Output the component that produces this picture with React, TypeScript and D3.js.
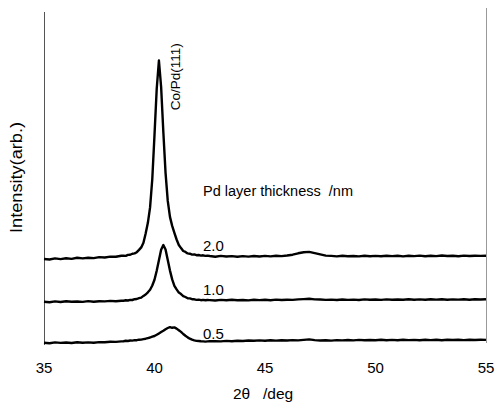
import React from "react";
import * as d3 from "d3";

// Diffraction angle grid (deg), finer across the (111) peak region
const theta = [
  35, 35.25, 35.5, 35.75, 36, 36.25, 36.5, 36.75, 37, 37.25, 37.5, 37.75, 38, 38.25, 38.5,
  38.6, 38.7, 38.8, 38.9, 39.0, 39.1, 39.2, 39.3, 39.4, 39.5, 39.6, 39.7, 39.8, 39.9,
  40.0, 40.1, 40.2, 40.3, 40.4, 40.5, 40.6, 40.7, 40.8, 40.9,
  41.0, 41.1, 41.2, 41.3, 41.4, 41.5, 41.6, 41.7, 41.8, 41.9,
  42.0, 42.1, 42.2, 42.3, 42.4,
  42.5, 42.75, 43, 43.25, 43.5, 43.75, 44, 44.25, 44.5, 44.75, 45,
  45.25, 45.5, 45.75, 46, 46.25, 46.5, 46.75, 47, 47.25, 47.5, 47.75,
  48, 48.25, 48.5, 48.75, 49, 49.25, 49.5, 49.75, 50, 50.25, 50.5,
  50.75, 51, 51.25, 51.5, 51.75, 52, 52.25, 52.5, 52.75, 53, 53.25,
  53.5, 53.75, 54, 54.25, 54.5, 54.75, 55,
];

// Offset intensities (arb.) for each Pd layer thickness
const intensity20 = [
  85.0, 84.5, 85.6, 84.9, 85.7, 85.1, 86.2, 85.6, 86.3, 85.9, 86.9, 86.5, 87.4, 87.2, 88.3,
  88.3, 88.1, 89.1, 89.2, 90.3, 90.6, 91.8, 94.1, 96.6, 101.2, 110.6, 121.2, 136.6, 165.0,
  209.0, 255.0, 283.5, 257.0, 212.0, 171.1, 143.1, 127.1, 118.1, 111.2,
  104.5, 99.0, 95.9, 93.0, 92.1, 90.6, 90.3, 89.4, 89.6, 88.8,
  89.0, 88.4, 88.7, 88.1, 88.4,
  88.0, 87.3, 88.1, 87.5, 87.9, 87.2, 87.9, 87.4, 88.0, 87.5, 88.1,
  87.6, 88.2, 87.9, 88.5, 89.3, 90.7, 91.7, 92.1, 90.9, 89.6, 88.4,
  88.1, 87.6, 88.2, 87.7, 88.0, 87.6, 88.3, 87.8, 88.1, 87.7, 88.3,
  87.9, 88.2, 87.6, 88.3, 87.9, 88.4, 87.8, 88.2, 87.9, 88.5, 88.0,
  88.3, 87.8, 88.4, 88.0, 88.3, 88.1, 88.2,
];

const intensity10 = [
  42.3, 41.8, 42.6, 42.0, 42.7, 42.2, 42.5, 42.1, 42.9, 42.3, 42.8, 42.6, 43.1, 42.7, 43.3,
  43.3, 43.7, 43.5, 44.1, 44.0, 44.8, 45.0, 45.9, 46.4, 48.1, 49.5, 51.7, 54.2, 58.5,
  64.3, 73.3, 83.8, 94.3, 99.0, 94.4, 83.9, 73.4, 64.6, 58.2,
  54.6, 51.4, 49.9, 47.9, 47.0, 45.8, 45.6, 44.8, 44.7, 44.1,
  44.3, 43.8, 44.1, 43.7, 44.0,
  43.9, 43.5, 44.1, 43.7, 44.2, 43.8, 44.0, 43.6, 44.3, 43.9, 44.2,
  43.8, 44.4, 44.0, 44.3, 44.1, 44.6, 44.9, 45.2, 44.6, 44.5, 44.1,
  44.4, 44.0, 44.5, 44.1, 44.4, 44.0, 44.6, 44.2, 44.5, 44.1, 44.6,
  44.3, 44.5, 44.2, 44.7, 44.3, 44.6, 44.2, 44.7, 44.4, 44.8, 44.3,
  44.6, 44.4, 44.8, 44.3, 44.7, 44.5, 44.7,
];

const intensity05 = [
  1.3, 0.8, 1.6, 1.1, 1.5, 1.0, 1.7, 1.3, 1.6, 1.2, 1.9, 1.8, 2.3, 2.1, 2.6,
  2.8, 3.2, 3.0, 3.5, 3.4, 3.9, 3.8, 4.3, 4.4, 4.9, 5.3, 5.9, 6.5, 7.4,
  8.0, 9.2, 10.6, 12.0, 13.3, 14.8, 16.0, 16.9, 16.2, 16.6,
  15.4, 13.8, 12.1, 10.0, 8.2, 6.6, 5.3, 4.3, 3.6, 3.1,
  3.0, 2.7, 2.6, 2.4, 2.6,
  2.7, 2.9, 2.6, 3.1, 2.8, 3.3, 3.0, 3.5, 3.2, 3.6, 3.3,
  3.8, 3.4, 3.7, 3.5, 3.9, 3.6, 4.1, 4.6, 3.9, 3.5, 3.8,
  3.4, 3.9, 3.6, 4.0, 3.6, 4.1, 3.7, 4.0, 3.8, 4.2, 3.7,
  4.1, 3.8, 4.2, 3.9, 4.1, 3.7, 4.2, 3.9, 4.3, 3.8, 4.2,
  4.0, 4.3, 3.9, 4.2, 4.0, 4.3, 4.1,
];

const thicknessLabels = ["2.0", "1.0", "0.5"];
const xTicks = [35, 40, 45, 50, 55];

const W = 496;
const H = 406;
const FONT = "'Liberation Sans', Arial, Helvetica, sans-serif";

export default function App() {
  const x = d3.scaleLinear().domain([35, 55]).range([44, 486]);
  const y = d3.scaleLinear().domain([0, 332]).range([344, 12]);

  const line = d3
    .line<number>()
    .x((_, i) => x(theta[i]))
    .y((d) => y(d));

  const series = [intensity20, intensity10, intensity05];
  const labelY = [250.7, 295, 338.5];

  return (
    <svg
      width={W}
      height={H}
      viewBox={`0 0 ${W} ${H}`}
      style={{ position: "absolute", left: 0, top: 0, background: "#fff" }}
    >
      <rect width={W} height={H} fill="#fff" />

      {/* frame: left and right axis lines */}
      <line x1={44.5} x2={44.5} y1={12} y2={345} stroke="#555" strokeWidth={1} />
      <line x1={486.5} x2={486.5} y1={8} y2={343} stroke="#999" strokeWidth={1} />

      {/* diffraction traces */}
      {series.map((s, i) => (
        <path
          key={i}
          d={line(s) || ""}
          fill="none"
          stroke="#000"
          strokeWidth={2.4}
          strokeLinejoin="round"
        />
      ))}

      {/* thickness labels */}
      {thicknessLabels.map((t, i) => (
        <text
          key={t}
          x={203}
          y={labelY[i]}
          fontFamily={FONT}
          fontSize={15}
          fill="#000"
        >
          {t}
        </text>
      ))}

      <text x={203} y={196} fontFamily={FONT} fontSize={14} fill="#000" textLength={150} lengthAdjust="spacingAndGlyphs" xmlSpace="preserve">
        Pd layer thickness  /nm
      </text>

      {/* peak annotation */}
      <text
        transform="translate(180,76.7) rotate(-90)"
        textAnchor="middle"
        fontFamily={FONT}
        fontSize={13.5}
        fill="#000"
      >
        Co/Pd(111)
      </text>

      {/* x tick labels */}
      {xTicks.map((t) => (
        <text
          key={t}
          x={x(t)}
          y={373.3}
          textAnchor="middle"
          fontFamily={FONT}
          fontSize={15}
          fill="#000"
        >
          {t}
        </text>
      ))}

      {/* axis titles */}
      <text y={399.3} fontFamily={FONT} fontSize={15.5} fill="#000">
        <tspan x={233}>2θ</tspan>
        <tspan x={263}>/deg</tspan>
      </text>
      <text
        transform="translate(22,177.5) rotate(-90)"
        textAnchor="middle"
        fontFamily={FONT}
        fontSize={16}
        fill="#000"
        textLength={111}
        lengthAdjust="spacingAndGlyphs"
      >
        Intensity(arb.)
      </text>
    </svg>
  );
}
